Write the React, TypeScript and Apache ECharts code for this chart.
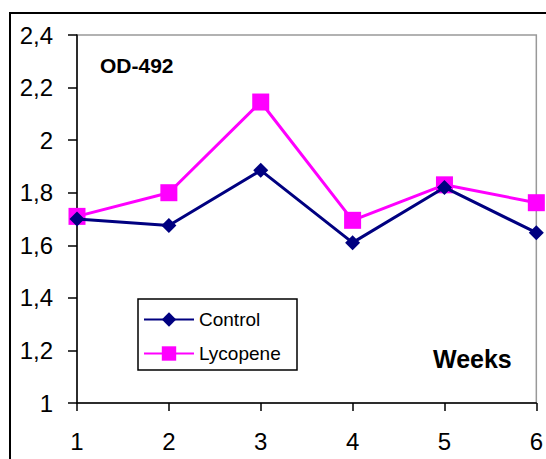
import React, { useEffect, useRef } from "react";
import * as echarts from "echarts";

const weeks = ["1", "2", "3", "4", "5", "6"];
const controlValues = [1.7, 1.675, 1.885, 1.61, 1.82, 1.648];
const lycopeneValues = [1.71, 1.8, 2.145, 1.695, 1.83, 1.762];
const yTicks = [1, 1.2, 1.4, 1.6, 1.8, 2, 2.2, 2.4];

const fmt = (v: number) => {
  const r = Math.round(v * 10) / 10;
  return Number.isInteger(r) ? String(r) : r.toFixed(1).replace(".", ",");
};

export default function App() {
  const ref = useRef<HTMLDivElement>(null);
  useEffect(() => {
    if (!ref.current) return;
    const chart = echarts.init(ref.current, null, { renderer: "svg" });
    const font = "'Liberation Sans', Arial, sans-serif";
    chart.setOption({
      animation: false,
      backgroundColor: "#ffffff",
      grid: { left: 77, top: 35, right: 6, bottom: 56, show: true, borderColor: "#999999", borderWidth: 1.5, backgroundColor: "transparent" },
      xAxis: {
        type: "category",
        data: weeks,
        boundaryGap: false,
        axisLine: { lineStyle: { color: "#000", width: 1.5 } },
        axisTick: { show: true, length: 8, inside: false, lineStyle: { color: "#000", width: 1.5 } },
        axisLabel: { color: "#000", fontSize: 24, fontFamily: font, margin: 26 },
        splitLine: { show: false },
      },
      yAxis: {
        type: "value",
        min: yTicks[0],
        max: yTicks[yTicks.length - 1],
        interval: 0.2,
        axisLine: { show: true, lineStyle: { color: "#000", width: 1.5 } },
        axisTick: { show: true, length: 9, lineStyle: { color: "#000", width: 1.5 } },
        axisLabel: { color: "#000", fontSize: 24, fontFamily: font, margin: 24, formatter: (v: number) => fmt(v) },
        splitLine: { show: false },
      },
      legend: {
        orient: "vertical",
        left: 143,
        top: 310,
        itemWidth: 50,
        itemHeight: 18,
        itemGap: 15,
        padding: 0,
        textStyle: { color: "#000", fontSize: 19, fontFamily: font, padding: [0, 0, 0, 0] },
        data: ["Control", "Lycopene"],
      },
      graphic: [
        { type: "rect", shape: { x: 10, y: 13, width: 700, height: 600 }, style: { fill: "none", stroke: "#000", lineWidth: 2 }, silent: true },
        { type: "rect", shape: { x: 138, y: 299, width: 159, height: 71 }, style: { fill: "none", stroke: "#000", lineWidth: 1.5 }, silent: true },
        { type: "text", left: 100, top: 55, style: { text: "OD-492", fontSize: 21, fontWeight: "bold", fontFamily: font, fill: "#000" } },
        { type: "text", left: 433, top: 346, style: { text: "Weeks", fontSize: 25, fontWeight: "bold", fontFamily: font, fill: "#000" } },
      ],
      series: [
        {
          name: "Control",
          type: "line",
          data: controlValues,
          symbol: "diamond",
          symbolSize: 15,
          itemStyle: { color: "#000080" },
          lineStyle: { color: "#000080", width: 3 },
          z: 3,
        },
        {
          name: "Lycopene",
          type: "line",
          data: lycopeneValues,
          symbol: "rect",
          symbolSize: 17,
          itemStyle: { color: "#ff00ff" },
          lineStyle: { color: "#ff00ff", width: 3 },
          z: 2,
        },
      ],
    });
    return () => chart.dispose();
  }, []);
  return <div ref={ref} style={{ position: "absolute", left: 0, top: 0, width: 546, height: 459 }} />;
}
